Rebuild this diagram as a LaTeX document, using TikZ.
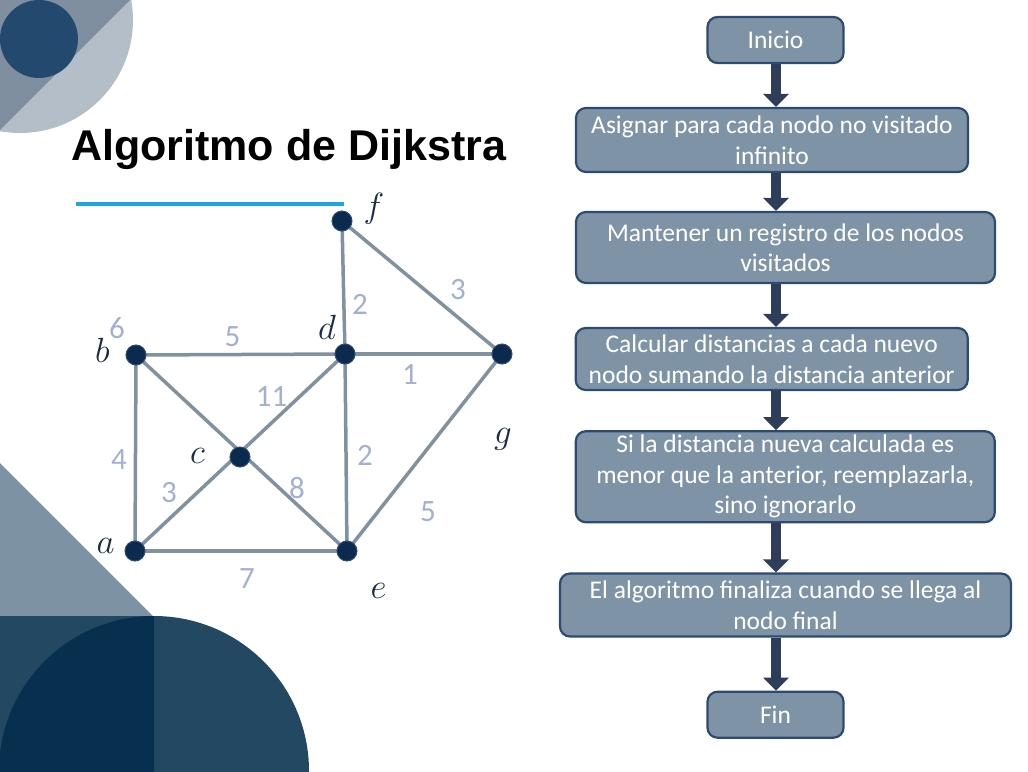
\documentclass[tikz,border=0pt]{standalone}
\usepackage{fix-cm}
\usepackage{fontspec}
\setmainfont{Carlito}
\newfontfamily\titlefont{Liberation Sans}
\usetikzlibrary{arrows.meta}
\definecolor{tlMed}{HTML}{7F8FA0}
\definecolor{tlLight}{HTML}{B4BEC9}
\definecolor{tlDark}{HTML}{234A6E}
\definecolor{triGray}{HTML}{7D92A3}
\definecolor{botMid}{HTML}{234862}
\definecolor{botDark}{HTML}{07304E}
\definecolor{blueLine}{HTML}{1DA5DE}
\definecolor{edgeCol}{HTML}{8091A0}
\definecolor{nodeFill}{HTML}{0C2A4D}
\definecolor{nodeBorder}{HTML}{2E4C74}
\definecolor{numCol}{HTML}{A3B0D3}
\definecolor{letCol}{HTML}{1A2B42}
\definecolor{boxFill}{HTML}{7E94A6}
\definecolor{boxBorder}{HTML}{2D4A73}
\definecolor{arrowCol}{HTML}{2E3D59}
\tikzset{
  gnode/.style={circle, fill=nodeFill, draw=nodeBorder, line width=1pt, minimum size=20pt, inner sep=0pt},
  gedge/.style={draw=edgeCol, line width=3.5pt},
  wlab/.style={text=numCol, inner sep=0pt, font=\fontsize{31}{34}\selectfont},
  vlab/.style={text=letCol, inner sep=0pt, font=\fontsize{35}{40}\selectfont},
  fbox/.style={rectangle, rounded corners=10pt, fill=boxFill, draw=boxBorder, line width=2.2pt,
    text=white, align=center, inner sep=0pt, font=\fontsize{25.5}{30.5}\selectfont},
  flowarrow/.style={draw=arrowCol, line width=10pt, -{Triangle[width=25pt,length=13pt]}, arrowCol}
}
\begin{document}
\begin{tikzpicture}[x=1pt,y=-1pt]
\useasboundingbox (0,0) rectangle (1028,771);
% ---- decorations
\begin{scope}
\clip (0,0) rectangle (1028,771);
\fill[tlLight] (20,20) circle[radius=113pt];
\begin{scope}
\clip (20,20) circle[radius=113pt];
\fill[tlMed] (0,0) -- (130,0) -- (0,130) -- cycle;
\end{scope}
\fill[tlDark] (39,39) circle[radius=39pt];
\fill[triGray] (0,463) -- (154,617) -- (0,617) -- cycle;
\fill[botMid] (0,616) rectangle (154,771);
\fill[botMid] (154,771) circle[radius=155pt];
\begin{scope}
\clip (0,600) rectangle (154,771);
\fill[botDark] (154,771) circle[radius=155pt];
\end{scope}
\end{scope}
% ---- title
\node[anchor=base west, inner sep=0pt, font=\titlefont\bfseries\fontsize{43}{50}\selectfont] (title) at (71,160) {Algoritmo de Dijkstra};
\draw[blueLine, line width=4pt] (76,204) -- (344,204);
% ---- graph
\coordinate (pa) at (135,551);
\coordinate (pb) at (136,355);
\coordinate (pc) at (240,457);
\coordinate (pd) at (345,354);
\coordinate (pe) at (347,551);
\coordinate (pf) at (342,221);
\coordinate (pg) at (502,354);
\draw[gedge] (pa) -- (pb);
\draw[gedge] (pb) -- (pd);
\draw[gedge] (pb) -- (pe);
\draw[gedge] (pa) -- (pd);
\draw[gedge] (pa) -- (pe);
\draw[gedge] (pd) -- (pe);
\draw[gedge] (pf) -- (pd);
\draw[gedge] (pd) -- (pg);
\draw[gedge] (pf) -- (pg);
\draw[gedge] (pg) -- (pe);
\node[gnode] (a) at (pa) {};
\node[gnode] (b) at (pb) {};
\node[gnode] (c) at (pc) {};
\node[gnode] (d) at (pd) {};
\node[gnode] (e) at (pe) {};
\node[gnode] (f) at (pf) {};
\node[gnode] (g) at (pg) {};
% vertex letters
\node[vlab] (la) at (105.5,546) {$a$};
\node[vlab] (lb) at (102.5,350.5) {$b$};
\node[vlab] (lc) at (197.5,455.5) {$c$};
\node[vlab] (ld) at (327,327) {$d$};
\node[vlab] (le) at (378.5,590.5) {$e$};
\node[vlab] (lf) at (374,209) {$f$};
\node[vlab] (lg) at (503,439) {$g$};
% weights
\node[wlab] (w6) at (117,328) {6};
\node[wlab] (w5a) at (232.5,337) {5};
\node[wlab] (w2a) at (360,304) {2};
\node[wlab] (w3a) at (458,290) {3};
\node[wlab] (w1) at (410,375) {1};
\node[wlab] (w11) at (271.5,397) {11};
\node[wlab] (w2b) at (365,455) {2};
\node[wlab] (w4) at (119,460) {4};
\node[wlab] (w3b) at (169,493) {3};
\node[wlab] (w8) at (297,488) {8};
\node[wlab] (w5b) at (428,512) {5};
\node[wlab] (w7) at (247,579) {7};
% ---- flowchart
\node[fbox, minimum width=136pt, minimum height=46pt] (n1) at (775.5,40) {Inicio};
\node[fbox, minimum width=392pt, minimum height=64pt] (n2) at (772,140) {Asignar para cada nodo no visitado\\infinito};
\node[fbox, minimum width=419pt, minimum height=71pt] (n3) at (785.5,247.5) {Mantener un registro de los nodos\\visitados};
\node[fbox, minimum width=392pt, minimum height=62pt] (n4) at (771.7,359) {Calcular distancias a cada nuevo\\nodo sumando la distancia anterior};
\node[fbox, minimum width=419pt, minimum height=91pt] (n5) at (785.3,476.7) {Si la distancia nueva calculada es\\menor que la anterior, reemplazarla,\\sino ignorarlo};
\node[fbox, minimum width=451pt, minimum height=63pt] (n6) at (785.5,605) {El algoritmo finaliza cuando se llega al\\nodo final};
\node[fbox, minimum width=136pt, minimum height=46pt] (n7) at (775.5,714.7) {Fin};
\coordinate (ax) at (776,0);
\draw[flowarrow] (n1.south -| ax) -- (n2.north -| ax);
\draw[flowarrow] (n2.south -| ax) -- (n3.north -| ax);
\draw[flowarrow] (n3.south -| ax) -- (n4.north -| ax);
\draw[flowarrow] (n4.south -| ax) -- (n5.north -| ax);
\draw[flowarrow] (n5.south -| ax) -- (n6.north -| ax);
\draw[flowarrow] (n6.south -| ax) -- (n7.north -| ax);
\end{tikzpicture}
\end{document}
